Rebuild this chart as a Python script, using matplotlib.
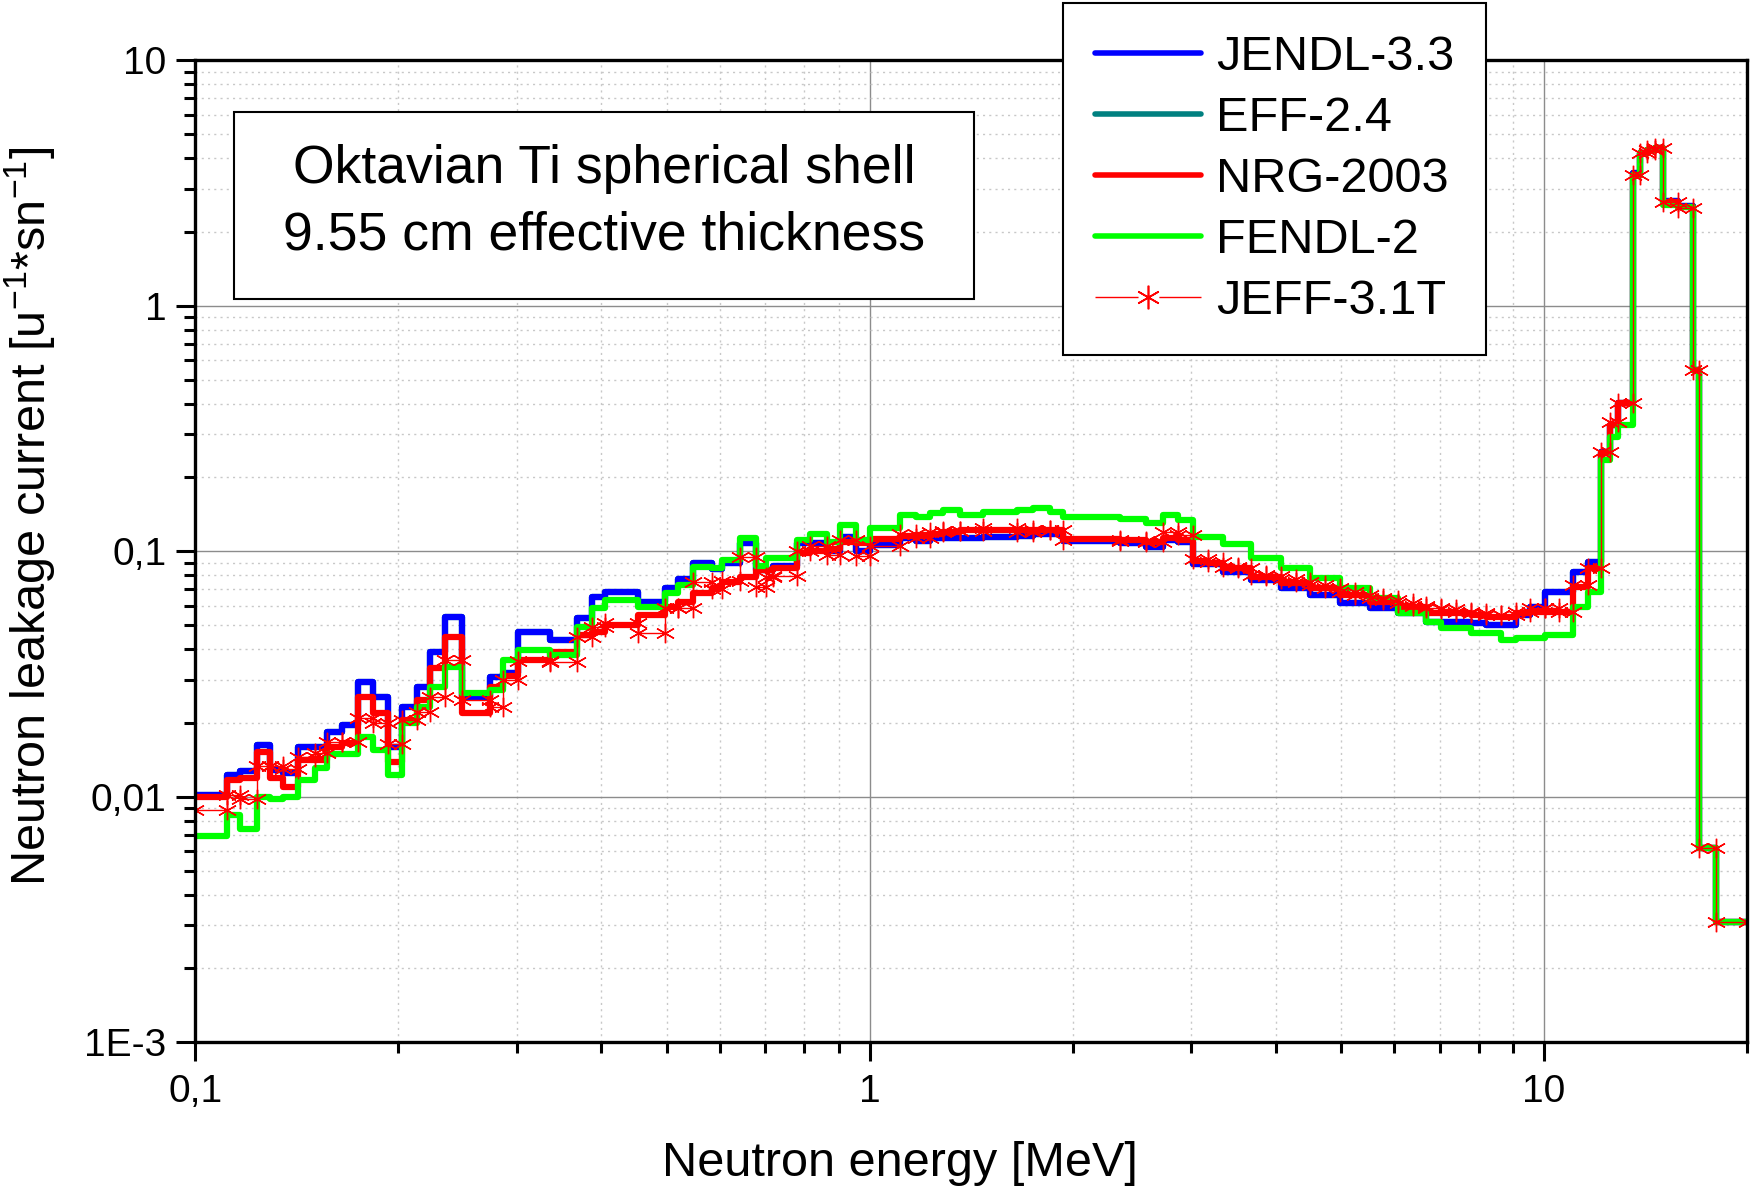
import matplotlib
matplotlib.use("Agg")
import matplotlib.pyplot as plt
from matplotlib.ticker import LogLocator, NullFormatter
from matplotlib.patches import Rectangle
from matplotlib.lines import Line2D

plt.rcParams["font.family"] = ["Liberation Sans", "DejaVu Sans"]
plt.rcParams["mathtext.default"] = "regular"

# ---- data ----
# group boundaries in MeV
edges = [0.100, 0.1113, 0.1165, 0.1233, 0.129, 0.135, 0.1421, 0.1504, 0.1566, 0.1648,
         0.1744, 0.1836, 0.1932, 0.2023, 0.2129, 0.2228, 0.2345, 0.2482, 0.2734, 0.2862,
         0.3012, 0.3357, 0.3676, 0.3870, 0.4050, 0.4537, 0.4971, 0.520,
         0.547, 0.583, 0.603, 0.642, 0.679, 0.703, 0.719, 0.779, 0.815, 0.863,
         0.903, 0.956, 1.0, 1.108,
         1.173, 1.228, 1.285, 1.36, 1.473, 1.651, 1.747, 1.849, 1.935, 2.349, 2.572, 2.723,
         2.866, 3.016, 3.175, 3.342, 3.517, 3.681, 3.874, 4.077, 4.292, 4.492,
         4.727, 4.977, 5.238, 5.512, 5.769, 6.073, 6.392, 6.688, 7.039, 7.409,
         7.798, 8.210, 8.641, 9.094, 9.517, 10.02, 10.54, 11.03, 11.64, 12.16,
         12.51, 12.87, 13.54, 13.86, 14.2, 14.6, 15.01, 15.8, 16.63, 17.0, 18.0, 20.0]

jendl = [0.0102, 0.0123, 0.0127, 0.0163, 0.0129, 0.0125, 0.0160, 0.0160, 0.0184, 0.0196,
         0.0294, 0.0256, 0.0160, 0.0233, 0.0281, 0.0390, 0.0542, 0.0256, 0.0309, 0.032,
         0.0471, 0.0435, 0.0533, 0.0653, 0.0685, 0.0623, 0.0707,
         0.0769, 0.0899, 0.085, 0.090, 0.108, 0.0839, 0.0839, 0.0872, 0.1077, 0.1077,
         0.1004, 0.1147, 0.1006, 0.106,
         0.113, 0.110, 0.113, 0.113, 0.113, 0.114, 0.115, 0.118, 0.118, 0.110, 0.1077, 0.1045,
         0.111, 0.109, 0.0889, 0.0889, 0.0826, 0.0826, 0.0764, 0.0764, 0.0706, 0.0706,
         0.0665, 0.0665, 0.0617, 0.0617, 0.0589, 0.0589, 0.0559, 0.0559, 0.0517, 0.0517,
         0.0517, 0.0509, 0.0501, 0.0501, 0.055, 0.0595, 0.0685, 0.0685, 0.0826, 0.0907,
         0.2547, 0.327, 0.401, 3.46, 4.2, 4.3, 4.38, 2.66, 2.55, 0.548, 0.0062, 0.0031]

# EFF-2.4 is not distinguishable from JENDL-3.3 in the picture (hidden underneath)
eff = list(jendl)

nrg = [0.0100, 0.0117, 0.0119, 0.0153, 0.0119, 0.0110, 0.0141, 0.0141, 0.0160, 0.0166,
       0.0256, 0.0219, 0.0139, 0.0206, 0.0248, 0.0334, 0.0449, 0.0219, 0.0281, 0.031,
       0.0361, 0.0390, 0.0456, 0.0471, 0.050, 0.055, 0.0595,
       0.0623, 0.0674, 0.0706, 0.0752, 0.0788, 0.0839, 0.0839, 0.0852, 0.098, 0.100,
       0.1018, 0.109, 0.108, 0.112,
       0.115, 0.117, 0.118, 0.120, 0.1216, 0.122, 0.122, 0.122, 0.1216, 0.112, 0.111, 0.109,
       0.113, 0.111, 0.0916, 0.090, 0.0855, 0.0855, 0.0788, 0.0788, 0.0741, 0.0741,
       0.0707, 0.0707, 0.0665, 0.0665, 0.0623, 0.0623, 0.0595, 0.0595, 0.0559, 0.0559,
       0.0559, 0.055, 0.0542, 0.0542, 0.0559, 0.0568, 0.0568, 0.0568, 0.0718, 0.0852,
       0.2515, 0.327, 0.401, 3.41, 4.2, 4.3, 4.38, 2.64, 2.53, 0.548, 0.0062, 0.0031]

fendl = [0.0069, 0.0084, 0.0074, 0.0100, 0.0098, 0.0100, 0.0117, 0.0131, 0.0150, 0.0150,
         0.0176, 0.0155, 0.0123, 0.0199, 0.0233, 0.0281, 0.0339, 0.0264, 0.0272, 0.036,
         0.0396, 0.0378, 0.0493, 0.0586, 0.0633, 0.0595, 0.0674,
         0.0729, 0.086, 0.0855, 0.0921, 0.1129, 0.0868, 0.0936, 0.0936, 0.111, 0.118,
         0.109, 0.128, 0.111, 0.124,
         0.1406, 0.138, 0.143, 0.147, 0.1406, 0.145, 0.147, 0.1496, 0.145, 0.138, 0.136, 0.130,
         0.1406, 0.1345, 0.1148, 0.1148, 0.1067, 0.1067, 0.0936, 0.0936, 0.0855, 0.0855,
         0.078, 0.078, 0.0707, 0.0707, 0.0643, 0.0643, 0.0559, 0.0559, 0.0517, 0.0485,
         0.0485, 0.0463, 0.0463, 0.0435, 0.0442, 0.0442, 0.0456, 0.0456, 0.0595, 0.0685,
         0.2355, 0.293, 0.327, 3.41, 4.2, 4.3, 4.38, 2.57, 2.52, 0.548, 0.0062, 0.0031]

jeff = [0.0088, 0.0102, 0.0098, 0.0133, 0.0134, 0.0130, 0.0145, 0.0151, 0.0168, 0.0167,
        0.0209, 0.0199, 0.0164, 0.0206, 0.0221, 0.0256, 0.0361, 0.0248, 0.0233, 0.030,
        0.0358, 0.0353, 0.0449, 0.0493, 0.051, 0.0465, 0.059,
        0.0587, 0.0752, 0.070, 0.076, 0.0945, 0.0716, 0.0788, 0.079, 0.100, 0.105,
        0.0965, 0.111, 0.0955, 0.105,
        0.118, 0.113, 0.120, 0.121, 0.121, 0.124, 0.120, 0.122, 0.122, 0.111, 0.110, 0.109,
        0.1202, 0.117, 0.0928, 0.0902, 0.0862, 0.0855, 0.0799, 0.0795, 0.0775, 0.075,
        0.0729, 0.0706, 0.0685, 0.0665, 0.0643, 0.0633, 0.0617, 0.060, 0.0589, 0.058,
        0.0568, 0.0559, 0.055, 0.055, 0.0568, 0.0589, 0.0589, 0.0568, 0.073, 0.0855,
        0.2547, 0.335, 0.401, 3.41, 4.2, 4.3, 4.38, 2.64, 2.5, 0.548, 0.0062, 0.0031]

xtick_vals = [0.1, 1, 10]
xtick_labels = ["0,1", "1", "10"]
ytick_vals = [1e-3, 1e-2, 1e-1, 1, 10]
ytick_labels = ["1E-3", "0,01", "0,1", "1", "10"]

# ---- figure ----
fig = plt.figure(figsize=(17.5, 11.89), dpi=100)
ax = fig.add_axes([0.1116, 0.1233, 0.8867, 0.826])
ax.set_xscale("log")
ax.set_yscale("log")
ax.set_xlim(0.1, 20)
ax.set_ylim(1e-3, 10)


def step_plot(vals, color, label, lw=4.5):
    ax.step(edges, vals + [vals[-1]], where="post", color=color, lw=lw, label=label,
            solid_joinstyle="round", solid_capstyle="round")


step_plot(eff, "#008080", "EFF-2.4")
step_plot(jendl, "#0000ff", "JENDL-3.3")
step_plot(nrg, "#ff0000", "NRG-2003")
step_plot(fendl, "#00ff00", "FENDL-2")

# JEFF-3.1T: thin line with symbols at every corner of the histogram
jx = [edges[0]]
jy = [jeff[0]]
for i in range(1, len(jeff)):
    jx += [edges[i], edges[i]]
    jy += [jeff[i - 1], jeff[i]]
jx.append(edges[-1])
jy.append(jeff[-1])
ax.plot(jx, jy, color="#ff0000", lw=1.0, marker=(6, 2, 0), markersize=14,
        markeredgewidth=1.0, label="JEFF-3.1T")

# grid
ax.grid(True, which="major", color="#8c8c8c", lw=1.0, ls="-")
ax.grid(True, which="minor", color="#c8c8c8", lw=1.0, ls=(0, (1.5, 3)))
ax.set_axisbelow(True)

ax.set_xticks(xtick_vals)
ax.set_xticklabels(xtick_labels)
ax.set_yticks(ytick_vals)
ax.set_yticklabels(ytick_labels)
ax.xaxis.set_minor_locator(LogLocator(base=10, subs=range(2, 10), numticks=20))
ax.yaxis.set_minor_locator(LogLocator(base=10, subs=range(2, 10), numticks=20))
ax.xaxis.set_minor_formatter(NullFormatter())
ax.yaxis.set_minor_formatter(NullFormatter())

ax.tick_params(which="major", direction="out", length=14, width=2.2)
ax.tick_params(which="minor", direction="out", length=8, width=2.2)
ax.tick_params(axis="x", which="major", pad=9)
ax.tick_params(axis="y", which="major", pad=7)
for lab in ax.get_xticklabels() + ax.get_yticklabels():
    lab.set_fontfamily(["Liberation Sans Narrow", "Liberation Sans"])
    lab.set_fontsize(28)
for s in ax.spines.values():
    s.set_linewidth(2.4)

ax.set_xlabel("Neutron energy [MeV]", fontsize=35)
ax.set_ylabel("Neutron leakage current [u$^{-1}$*sn$^{-1}$]", fontsize=35)
ax.xaxis.set_label_coords(0.454, -0.100)
ax.yaxis.set_label_coords(-0.0885, 0.536)

# annotation box
ax.add_patch(Rectangle((0.0249, 0.757), 0.4769, 0.1904, transform=ax.transAxes,
                       fill=True, facecolor="white", edgecolor="black", lw=1.5, zorder=5))
ax.text(0.2634, 0.855, "Oktavian Ti spherical shell\n9.55 cm effective thickness",
        transform=ax.transAxes, ha="center", va="center", fontsize=38.5,
        linespacing=1.42, zorder=6)

# legend (JEFF handle drawn with a gap around the symbol, like Origin does)
handles, labels = ax.get_legend_handles_labels()
order = ["JENDL-3.3", "EFF-2.4", "NRG-2003", "FENDL-2"]
hmap = dict(zip(labels, handles))
jeff_handle = Line2D([], [], color="#ff0000", lw=1.0, ls=(0, (31, 15, 31, 15)),
                     marker=(6, 2, 0), markersize=17, markeredgewidth=1.2)
leg = fig.legend([hmap[k] for k in order] + [jeff_handle], order + ["JEFF-3.1T"],
                 loc="upper left",
                 bbox_to_anchor=(0.6074, 0.9975), bbox_transform=fig.transFigure,
                 borderaxespad=0, fontsize=35, frameon=True, fancybox=False,
                 framealpha=1, edgecolor="black", borderpad=0.65, labelspacing=0.33,
                 handlelength=2.2, handletextpad=0.3, numpoints=1)
leg.get_frame().set_linewidth(1.5)
for line in leg.get_lines()[:4]:
    line.set_linewidth(4)

fig.savefig("out.png", dpi=100)
